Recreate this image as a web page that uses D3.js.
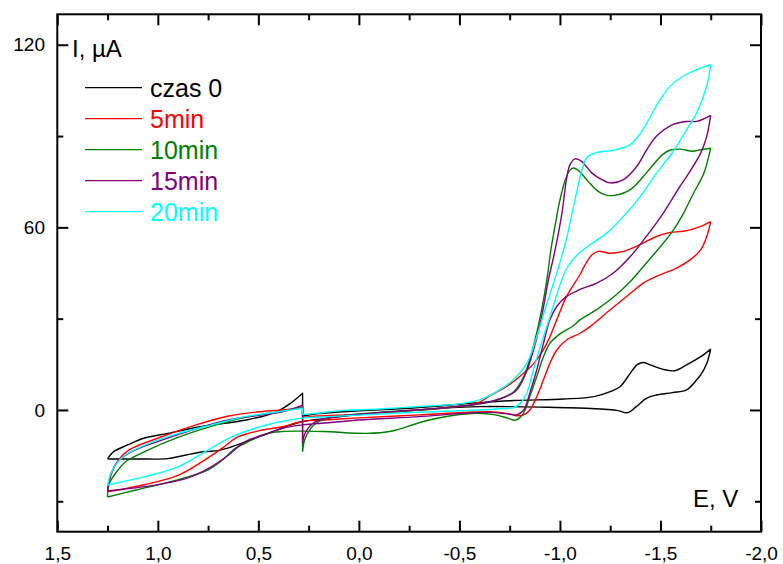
<!DOCTYPE html>
<html>
<head>
<meta charset="utf-8">
<script src="https://cdn.jsdelivr.net/npm/d3@7"></script>
<style>
  body { margin: 0; background: #ffffff; }
  text { font-family: "Liberation Sans", Arial, sans-serif; }
</style>
</head>
<body>
<svg id="chart" width="783" height="564"></svg>
<script>
// Cyclic voltammograms: potential E (V), current I (µA).
// Each scan: forward sweep from 0.28 V to -1.75 V, reverse sweep to 1.25 V,
// then the closing sweep back to 0.28 V.

const seriesLabels = ["czas 0", "5min", "10min", "15min", "20min"];
const xMajorTicks = [1.5, 1.0, 0.5, 0.0, -0.5, -1.0, -1.5, -2.0];
const xMinorTicks = [1.25, 0.75, 0.25, -0.25, -0.75, -1.25, -1.75];
const yMajorTicks = [0, 60, 120];
const yMinorTicks = [-30, 30, 90];

// czas 0
const t0Fwd = [[0.28,-2.0],[0.2,-1.2],[0.0,-0.3],[-0.3,0.8],[-0.6,2.4],[-0.77,3.1],[-1.02,3.6],[-1.17,4.4],[-1.25,6.0],[-1.30,7.7],[-1.35,12.1],[-1.385,14.9],[-1.415,15.6],[-1.45,14.8],[-1.51,13.4],[-1.57,12.9],[-1.63,14.8],[-1.70,17.5],[-1.75,20.0]];
const t0Rev = [[-1.75,20.0],[-1.73,15.3],[-1.70,11.5],[-1.68,9.9],[-1.63,6.6],[-1.56,5.7],[-1.48,4.9],[-1.43,3.8],[-1.38,1.1],[-1.335,-0.9],[-1.29,-0.2],[-1.15,0.5],[-0.93,0.9],[-0.6,1.1],[-0.4,0.5],[-0.2,-0.5],[0.0,-1.5],[0.15,-2.7],[0.28,-3.8],[0.41,-6.6],[0.56,-10.4],[0.69,-13.2],[0.79,-13.9],[0.86,-14.8],[0.95,-16.0],[1.1,-16.1],[1.25,-16.1]];
const t0End = [[1.25,-16.1],[1.22,-13.7],[1.15,-11.5],[1.07,-9.3],[0.95,-7.7],[0.79,-5.5],[0.56,-3.3],[0.41,-0.6],[0.34,2.2],[0.28,5.5]];

// 5min
const t5Fwd = [[0.28,-2.5],[0.2,-2.0],[0.0,-1.5],[-0.2,-0.5],[-0.4,0.5],[-0.587,2.2],[-0.65,4.6],[-0.735,7.7],[-0.80,11.0],[-0.87,15.3],[-0.935,21.9],[-0.984,29.6],[-1.033,37.3],[-1.1,44.5],[-1.125,47.7],[-1.16,51.0],[-1.19,52.1],[-1.25,51.5],[-1.316,52.1],[-1.398,54.3],[-1.48,57.0],[-1.548,58.3],[-1.614,58.7],[-1.68,59.8],[-1.75,61.9]];
const t5Rev = [[-1.75,61.9],[-1.73,57.0],[-1.70,52.6],[-1.647,49.3],[-1.58,46.6],[-1.498,44.4],[-1.415,41.7],[-1.332,37.3],[-1.25,32.9],[-1.15,27.4],[-1.1,25.2],[-1.033,23.0],[-0.984,19.7],[-0.95,15.3],[-0.918,9.9],[-0.885,4.4],[-0.85,0.0],[-0.82,-1.6],[-0.785,-1.9],[-0.75,-1.3],[-0.65,-0.6],[-0.5,-0.9],[-0.3,-1.6],[0.0,-2.6],[0.15,-3.2],[0.28,-3.8],[0.38,-5.5],[0.48,-6.6],[0.6,-8.8],[0.68,-12.6],[0.78,-17.0],[0.897,-21.4],[1.062,-24.5],[1.25,-26.9]];
const t5End = [[1.25,-26.9],[1.228,-20.3],[1.195,-16.4],[1.145,-13.2],[0.98,-8.8],[0.814,-5.0],[0.648,-2.0],[0.48,-0.5],[0.38,0.0],[0.28,0.6]];

// 10min
const t10Fwd = [[0.28,-13.7],[0.27,-9.9],[0.25,-7.1],[0.22,-4.7],[0.17,-2.9],[0.05,-1.6],[-0.1,-0.8],[-0.3,0.0],[-0.5,1.2],[-0.6,2.0],[-0.7,3.6],[-0.77,6.0],[-0.82,11.0],[-0.86,19.0],[-0.90,30.0],[-0.935,42.8],[-0.955,52.6],[-0.978,61.4],[-1.0,69.0],[-1.026,75.5],[-1.05,78.8],[-1.068,79.5],[-1.10,78.2],[-1.14,75.1],[-1.19,71.8],[-1.23,70.6],[-1.27,70.5],[-1.35,72.4],[-1.43,77.9],[-1.51,83.9],[-1.55,85.4],[-1.60,85.7],[-1.66,85.0],[-1.70,85.5],[-1.75,86.0]];
const t10Rev = [[-1.75,86.0],[-1.735,82.0],[-1.72,78.5],[-1.70,75.5],[-1.665,71.3],[-1.615,64.7],[-1.565,59.2],[-1.50,53.7],[-1.43,48.3],[-1.35,42.2],[-1.27,37.3],[-1.18,32.9],[-1.10,29.6],[-1.065,27.6],[-1.0,25.0],[-0.95,21.9],[-0.918,17.5],[-0.885,11.0],[-0.85,4.4],[-0.827,0.0],[-0.80,-2.6],[-0.775,-3.4],[-0.74,-2.7],[-0.68,-1.6],[-0.59,-1.1],[-0.45,-2.0],[-0.32,-3.8],[-0.16,-7.0],[-0.04,-7.7],[0.18,-7.1],[0.38,-7.1],[0.48,-8.2],[0.56,-10.8],[0.615,-12.6],[0.68,-16.5],[0.75,-19.7],[0.85,-22.0],[0.98,-24.3],[1.11,-26.3],[1.25,-28.6]];
const t10End = [[1.25,-28.6],[1.245,-24.7],[1.21,-20.8],[1.16,-17.0],[1.06,-13.5],[0.9,-9.0],[0.73,-5.3],[0.565,-2.4],[0.40,-0.6],[0.28,1.0]];

// 15min
const t15Fwd = [[0.28,-11.0],[0.27,-8.0],[0.25,-5.8],[0.22,-4.0],[0.15,-2.6],[0.0,-1.4],[-0.2,-0.4],[-0.4,0.6],[-0.6,2.0],[-0.7,3.6],[-0.78,6.2],[-0.83,12.0],[-0.87,20.0],[-0.91,31.0],[-0.943,42.8],[-0.976,52.6],[-1.01,64.7],[-1.033,76.0],[-1.05,80.6],[-1.075,82.5],[-1.108,81.7],[-1.158,77.9],[-1.208,75.7],[-1.25,74.6],[-1.316,75.7],[-1.382,80.0],[-1.432,85.5],[-1.48,89.9],[-1.564,93.8],[-1.63,94.8],[-1.68,94.8],[-1.75,96.8]];
const t15Rev = [[-1.75,96.8],[-1.73,89.9],[-1.70,84.4],[-1.63,76.7],[-1.597,73.5],[-1.514,64.7],[-1.432,57.2],[-1.35,50.4],[-1.266,45.0],[-1.183,41.7],[-1.1,39.6],[-1.033,37.3],[-0.984,34.0],[-0.95,29.6],[-0.918,21.9],[-0.885,13.2],[-0.85,5.5],[-0.82,0.0],[-0.785,-1.6],[-0.75,-1.4],[-0.65,-0.8],[-0.5,-1.2],[-0.3,-2.2],[0.0,-3.3],[0.15,-4.2],[0.28,-4.9],[0.38,-6.0],[0.45,-7.7],[0.565,-10.4],[0.648,-14.8],[0.748,-19.2],[0.85,-22.3],[0.98,-24.3],[1.062,-25.2],[1.25,-26.6]];
const t15End = [[1.25,-26.6],[1.235,-21.4],[1.2,-17.0],[1.13,-13.7],[0.98,-9.9],[0.81,-6.2],[0.65,-3.3],[0.48,-1.6],[0.38,-0.6],[0.28,1.6]];

// 20min
const t20Fwd = [[0.28,-1.5],[0.2,-1.0],[0.1,-0.3],[-0.1,0.3],[-0.32,1.2],[-0.5,2.0],[-0.6,3.3],[-0.685,6.0],[-0.768,9.9],[-0.835,15.3],[-0.885,24.1],[-0.935,35.0],[-0.97,42.0],[-1.0,48.5],[-1.03,55.5],[-1.055,63.0],[-1.083,71.5],[-1.108,78.5],[-1.135,83.0],[-1.183,84.6],[-1.266,85.3],[-1.35,87.2],[-1.39,90.0],[-1.432,94.3],[-1.498,102.0],[-1.548,106.4],[-1.597,109.0],[-1.663,111.3],[-1.75,113.5]];
const t20Rev = [[-1.75,113.5],[-1.73,106.4],[-1.68,97.6],[-1.63,92.0],[-1.564,85.0],[-1.48,77.8],[-1.40,70.2],[-1.316,63.6],[-1.233,58.1],[-1.15,54.3],[-1.1,51.8],[-1.06,49.0],[-1.03,46.0],[-1.005,42.0],[-0.98,37.0],[-0.95,30.5],[-0.918,24.1],[-0.868,13.2],[-0.835,5.5],[-0.80,2.0],[-0.77,0.8],[-0.7,0.4],[-0.6,0.0],[-0.4,-0.5],[-0.2,-1.0],[0.0,-1.7],[0.15,-2.2],[0.28,-2.7],[0.383,-3.8],[0.516,-6.0],[0.648,-9.3],[0.764,-13.7],[0.897,-18.6],[1.062,-21.9],[1.178,-23.6],[1.25,-24.7]];
const t20End = [[1.25,-24.7],[1.237,-21.4],[1.212,-18.1],[1.162,-14.8],[1.062,-11.5],[0.897,-7.7],[0.731,-4.9],[0.565,-2.2],[0.4,-0.6],[0.28,0.6]];

const seriesColors = ["#000000", "#ff0000", "#008000", "#800080", "#00ffff"];
const scans = [
  [t0Fwd, t0Rev, t0End],
  [t5Fwd, t5Rev, t5End],
  [t10Fwd, t10Rev, t10End],
  [t15Fwd, t15Rev, t15End],
  [t20Fwd, t20Rev, t20End]
];

const svg = d3.select("#chart");
const plotLeft = 57.3, plotRight = 761, plotTop = 14.3, plotBottom = 531.7;

const x = d3.scaleLinear().domain([1.5, -2.0]).range([plotLeft, plotRight]);
const y = d3.scaleLinear().domain([-40, 130]).range([plotBottom, plotTop]);

const fmt = d => d3.format(".1f")(d).replace(".", ",").replace("\u2212", "-");

// Axes: ticks point into the plot on all four sides
function styleAxis(g) {
  g.select(".domain").remove();
  g.selectAll(".tick line").attr("stroke", "#000").attr("stroke-width", 2);
  g.selectAll(".tick text").attr("fill", "#000")
    .style("font-family", "'Liberation Sans', Arial, sans-serif")
    .style("font-size", "19px");
}

svg.append("g").attr("transform", `translate(0,${plotBottom})`)
  .call(d3.axisBottom(x).tickValues(xMajorTicks).tickSize(-11).tickPadding(15).tickFormat(fmt))
  .call(styleAxis);
svg.append("g").attr("transform", `translate(0,${plotBottom})`)
  .call(d3.axisBottom(x).tickValues(xMinorTicks).tickSize(-6).tickFormat(""))
  .call(styleAxis);
svg.append("g").attr("transform", `translate(0,${plotTop})`)
  .call(d3.axisTop(x).tickValues(xMajorTicks).tickSize(-11).tickFormat(""))
  .call(styleAxis);
svg.append("g").attr("transform", `translate(0,${plotTop})`)
  .call(d3.axisTop(x).tickValues(xMinorTicks).tickSize(-6).tickFormat(""))
  .call(styleAxis);

svg.append("g").attr("transform", `translate(${plotLeft},0)`)
  .call(d3.axisLeft(y).tickValues(yMajorTicks).tickSize(-11).tickPadding(12.3).tickFormat(d3.format("d")))
  .call(styleAxis);
svg.append("g").attr("transform", `translate(${plotLeft},0)`)
  .call(d3.axisLeft(y).tickValues(yMinorTicks).tickSize(-6).tickFormat(""))
  .call(styleAxis);
svg.append("g").attr("transform", `translate(${plotRight},0)`)
  .call(d3.axisRight(y).tickValues(yMajorTicks).tickSize(-11).tickFormat(""))
  .call(styleAxis);
svg.append("g").attr("transform", `translate(${plotRight},0)`)
  .call(d3.axisRight(y).tickValues(yMinorTicks).tickSize(-6).tickFormat(""))
  .call(styleAxis);

// Frame
svg.append("rect")
  .attr("x", plotLeft).attr("y", plotTop)
  .attr("width", plotRight - plotLeft).attr("height", plotBottom - plotTop)
  .attr("fill", "none").attr("stroke", "#000").attr("stroke-width", 2);

// Voltammogram loops
const line = d3.line()
  .x(d => x(d[0]))
  .y(d => y(d[1]))
  .curve(d3.curveCatmullRom.alpha(0.5));

scans.forEach((branches, i) => {
  const start = branches[0][0];
  const d = branches.map(b => line(b)).join("") + `L${x(start[0])},${y(start[1])}`;
  svg.append("path")
    .attr("d", d)
    .attr("fill", "none")
    .attr("stroke", seriesColors[i])
    .attr("stroke-width", 1.4)
    .attr("stroke-linejoin", "round");
});

// Axis titles
svg.append("text").attr("x", 72).attr("y", 56.5)
  .style("font-size", "24px").attr("fill", "#000").text("I, µA");
svg.append("text").attr("x", 693).attr("y", 506.7)
  .style("font-size", "24px").attr("fill", "#000").text("E, V");

// Legend
const legend = svg.append("g");
seriesLabels.forEach((label, i) => {
  const ly = 87.7 + 31 * i;
  legend.append("line")
    .attr("x1", 85).attr("x2", 142).attr("y1", ly).attr("y2", ly)
    .attr("stroke", seriesColors[i]).attr("stroke-width", 1.3);
  legend.append("text")
    .attr("x", 150).attr("y", ly + 9.6)
    .style("font-size", "25px")
    .attr("fill", seriesColors[i])
    .text(label);
});
</script>
</body>
</html>
